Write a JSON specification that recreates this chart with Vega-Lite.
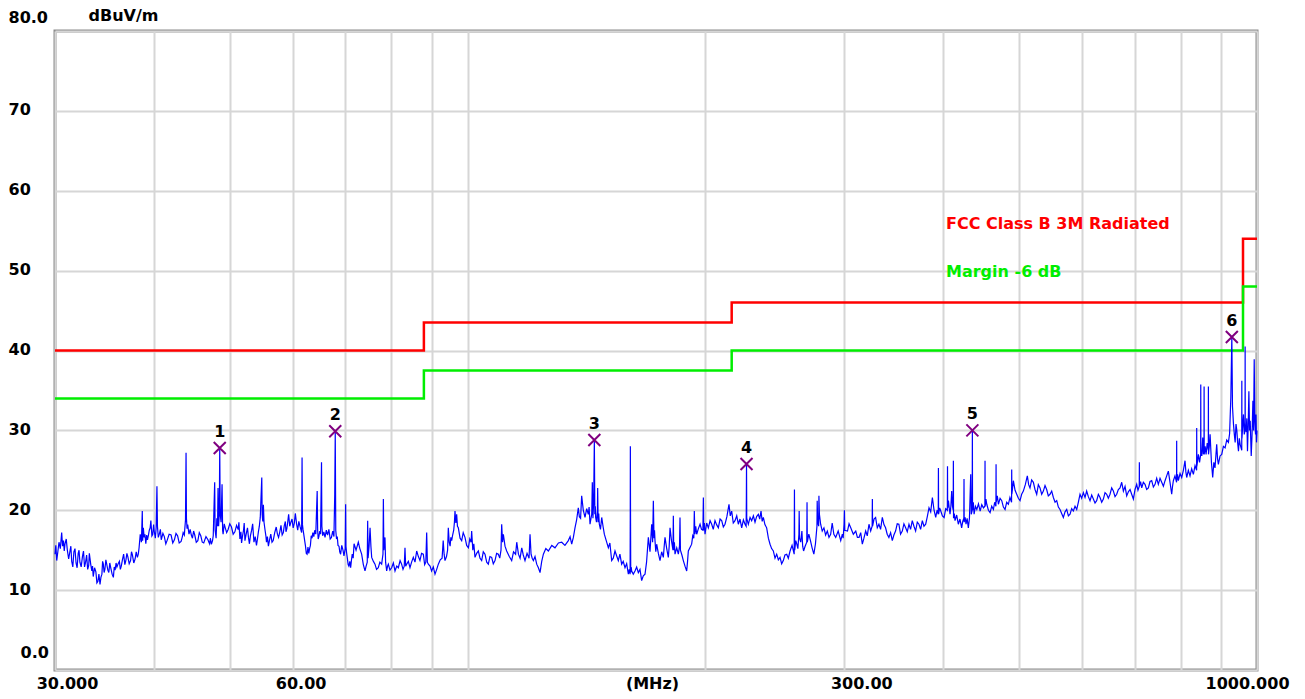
{
  "$schema": "https://vega.github.io/schema/vega-lite/v6.json",
  "width": 1202,
  "height": 639,
  "autosize": {"type": "none"},
  "padding": {"left": 55, "top": 31, "right": 48, "bottom": 29},
  "background": "white",
  "config": {"view": {"stroke": "#8c8c8c", "strokeWidth": 3}},
  "datasets": {
    "trace": [
      {"f":30.0,"v":14.5},{"f":30.07,"v":15.6},{"f":30.15,"v":13.7},{"f":30.25,"v":14.8},{"f":30.35,"v":16.0},{"f":30.47,"v":15.2},{"f":30.59,"v":17.2},{"f":30.67,"v":15.5},{"f":30.75,"v":16.2},{"f":30.82,"v":14.9},{"f":30.89,"v":15.8},{"f":31.0,"v":16.4},{"f":31.1,"v":15.0},{"f":31.22,"v":13.9},{"f":31.34,"v":14.9},{"f":31.42,"v":15.5},{"f":31.5,"v":13.6},{"f":31.6,"v":12.9},{"f":31.7,"v":14.8},{"f":31.8,"v":15.2},{"f":31.9,"v":13.4},{"f":32.0,"v":12.8},{"f":32.1,"v":14.6},{"f":32.18,"v":15.0},{"f":32.26,"v":13.5},{"f":32.38,"v":12.9},{"f":32.5,"v":14.2},{"f":32.6,"v":14.9},{"f":32.7,"v":12.9},{"f":32.8,"v":13.5},{"f":32.9,"v":14.4},{"f":33.0,"v":12.6},{"f":33.1,"v":13.1},{"f":33.16,"v":14.6},{"f":33.22,"v":14.0},{"f":33.3,"v":13.2},{"f":33.4,"v":12.4},{"f":33.47,"v":13.0},{"f":33.54,"v":11.7},{"f":33.67,"v":12.8},{"f":33.8,"v":12.3},{"f":33.9,"v":10.9},{"f":34.0,"v":11.1},{"f":34.1,"v":12.0},{"f":34.21,"v":10.7},{"f":34.3,"v":11.6},{"f":34.4,"v":12.0},{"f":34.47,"v":13.6},{"f":34.54,"v":13.3},{"f":34.62,"v":12.2},{"f":34.7,"v":12.6},{"f":34.8,"v":13.8},{"f":34.88,"v":13.3},{"f":35.0,"v":12.5},{"f":35.1,"v":12.2},{"f":35.2,"v":13.4},{"f":35.3,"v":12.8},{"f":35.44,"v":12.0},{"f":35.57,"v":11.6},{"f":35.66,"v":12.9},{"f":35.75,"v":12.5},{"f":35.85,"v":13.4},{"f":35.94,"v":12.9},{"f":36.07,"v":13.3},{"f":36.2,"v":13.6},{"f":36.3,"v":12.6},{"f":36.4,"v":13.0},{"f":36.52,"v":13.8},{"f":36.65,"v":14.5},{"f":36.78,"v":13.2},{"f":36.9,"v":13.8},{"f":37.0,"v":14.6},{"f":37.1,"v":14.2},{"f":37.25,"v":13.3},{"f":37.4,"v":13.7},{"f":37.5,"v":14.8},{"f":37.6,"v":14.4},{"f":37.75,"v":13.4},{"f":37.9,"v":13.9},{"f":38.02,"v":14.8},{"f":38.15,"v":14.1},{"f":38.25,"v":14.5},{"f":38.34,"v":15.3},{"f":38.47,"v":17.0},{"f":38.6,"v":16.0},{"f":38.7,"v":19.9},{"f":38.74,"v":16.2},{"f":38.82,"v":17.8},{"f":38.91,"v":16.6},{"f":39.0,"v":17.0},{"f":39.1,"v":15.8},{"f":39.2,"v":16.9},{"f":39.29,"v":16.3},{"f":39.4,"v":16.9},{"f":39.5,"v":17.5},{"f":39.6,"v":17.8},{"f":39.68,"v":18.7},{"f":39.8,"v":16.8},{"f":39.9,"v":17.0},{"f":40.0,"v":18.2},{"f":40.07,"v":17.4},{"f":40.2,"v":16.5},{"f":40.3,"v":17.8},{"f":40.39,"v":23.0},{"f":40.45,"v":18.0},{"f":40.55,"v":16.6},{"f":40.67,"v":17.0},{"f":40.8,"v":17.6},{"f":40.9,"v":16.3},{"f":41.1,"v":17.1},{"f":41.27,"v":16.7},{"f":41.45,"v":15.8},{"f":41.6,"v":16.2},{"f":41.85,"v":17.0},{"f":42.09,"v":16.9},{"f":42.3,"v":15.9},{"f":42.5,"v":16.3},{"f":42.7,"v":17.1},{"f":42.9,"v":16.8},{"f":43.1,"v":15.9},{"f":43.34,"v":16.1},{"f":43.5,"v":16.7},{"f":43.6,"v":17.2},{"f":43.75,"v":16.9},{"f":43.9,"v":18.8},{"f":43.97,"v":27.2},{"f":44.02,"v":19.0},{"f":44.1,"v":17.7},{"f":44.18,"v":18.2},{"f":44.35,"v":17.0},{"f":44.5,"v":17.6},{"f":44.65,"v":16.9},{"f":44.8,"v":16.5},{"f":44.95,"v":17.4},{"f":45.1,"v":16.9},{"f":45.3,"v":16.0},{"f":45.51,"v":16.2},{"f":45.7,"v":17.2},{"f":45.9,"v":16.8},{"f":46.1,"v":16.0},{"f":46.3,"v":15.9},{"f":46.6,"v":16.7},{"f":46.87,"v":16.3},{"f":47.0,"v":16.0},{"f":47.1,"v":15.8},{"f":47.2,"v":16.5},{"f":47.34,"v":15.75},{"f":47.5,"v":16.2},{"f":47.6,"v":16.8},{"f":47.8,"v":23.5},{"f":47.86,"v":17.5},{"f":48.0,"v":16.5},{"f":48.1,"v":19.0},{"f":48.2,"v":18.0},{"f":48.27,"v":22.8},{"f":48.35,"v":18.0},{"f":48.45,"v":19.5},{"f":48.51,"v":27.8},{"f":48.58,"v":19.5},{"f":48.7,"v":18.5},{"f":48.84,"v":23.25},{"f":48.92,"v":17.5},{"f":48.99,"v":17.0},{"f":49.15,"v":18.3},{"f":49.3,"v":17.8},{"f":49.5,"v":17.2},{"f":49.71,"v":17.6},{"f":49.95,"v":18.3},{"f":50.2,"v":17.9},{"f":50.45,"v":17.0},{"f":50.7,"v":17.3},{"f":50.95,"v":18.1},{"f":51.2,"v":17.6},{"f":51.3,"v":18.5},{"f":51.45,"v":16.4},{"f":51.6,"v":17.3},{"f":51.7,"v":15.9},{"f":51.85,"v":16.8},{"f":52.0,"v":17.5},{"f":52.1,"v":18.4},{"f":52.21,"v":16.2},{"f":52.4,"v":17.0},{"f":52.6,"v":17.8},{"f":52.75,"v":16.6},{"f":52.9,"v":15.8},{"f":53.05,"v":16.8},{"f":53.24,"v":17.5},{"f":53.4,"v":18.3},{"f":53.6,"v":16.0},{"f":53.8,"v":16.7},{"f":54.0,"v":15.6},{"f":54.15,"v":16.4},{"f":54.3,"v":17.3},{"f":54.45,"v":18.0},{"f":54.6,"v":19.1},{"f":54.84,"v":24.1},{"f":54.9,"v":19.5},{"f":55.0,"v":18.6},{"f":55.1,"v":20.7},{"f":55.2,"v":18.5},{"f":55.37,"v":17.5},{"f":55.5,"v":16.8},{"f":55.6,"v":16.0},{"f":55.75,"v":16.7},{"f":55.91,"v":15.5},{"f":56.1,"v":16.3},{"f":56.3,"v":17.0},{"f":56.5,"v":16.0},{"f":56.7,"v":16.2},{"f":56.95,"v":17.2},{"f":57.2,"v":17.9},{"f":57.4,"v":17.0},{"f":57.59,"v":16.6},{"f":57.8,"v":17.3},{"f":58.0,"v":18.1},{"f":58.2,"v":16.9},{"f":58.4,"v":17.2},{"f":58.55,"v":18.0},{"f":58.74,"v":18.6},{"f":58.85,"v":17.3},{"f":59.0,"v":17.7},{"f":59.15,"v":18.5},{"f":59.31,"v":19.5},{"f":59.5,"v":18.0},{"f":59.7,"v":18.5},{"f":59.9,"v":18.9},{"f":60.1,"v":17.8},{"f":60.3,"v":18.4},{"f":60.48,"v":19.6},{"f":60.7,"v":18.3},{"f":60.9,"v":17.5},{"f":61.1,"v":18.6},{"f":61.3,"v":18.0},{"f":61.45,"v":17.6},{"f":61.6,"v":17.2},{"f":61.68,"v":26.6},{"f":61.75,"v":18.2},{"f":61.85,"v":17.6},{"f":61.98,"v":17.0},{"f":62.15,"v":16.2},{"f":62.3,"v":15.5},{"f":62.45,"v":14.6},{"f":62.59,"v":14.5},{"f":62.75,"v":15.4},{"f":62.9,"v":14.6},{"f":63.05,"v":15.2},{"f":63.2,"v":15.6},{"f":63.35,"v":16.8},{"f":63.5,"v":16.5},{"f":63.65,"v":17.2},{"f":63.83,"v":16.7},{"f":64.0,"v":17.5},{"f":64.2,"v":17.0},{"f":64.46,"v":22.4},{"f":64.55,"v":17.5},{"f":64.65,"v":16.4},{"f":64.78,"v":16.7},{"f":64.95,"v":17.4},{"f":65.1,"v":17.0},{"f":65.28,"v":26.0},{"f":65.35,"v":18.0},{"f":65.5,"v":16.8},{"f":65.73,"v":17.3},{"f":65.95,"v":16.6},{"f":66.2,"v":17.5},{"f":66.45,"v":16.9},{"f":66.7,"v":17.6},{"f":66.95,"v":16.4},{"f":67.2,"v":16.6},{"f":67.45,"v":17.4},{"f":67.69,"v":16.7},{"f":67.85,"v":22.0},{"f":67.95,"v":29.8},{"f":68.05,"v":17.5},{"f":68.2,"v":16.4},{"f":68.35,"v":16.7},{"f":68.5,"v":15.6},{"f":68.7,"v":15.5},{"f":68.85,"v":14.8},{"f":69.02,"v":14.5},{"f":69.25,"v":15.6},{"f":69.5,"v":15.0},{"f":69.7,"v":14.3},{"f":69.95,"v":15.2},{"f":70.04,"v":20.75},{"f":70.1,"v":15.5},{"f":70.25,"v":14.6},{"f":70.39,"v":14.0},{"f":70.55,"v":13.2},{"f":70.7,"v":13.0},{"f":70.9,"v":13.6},{"f":71.07,"v":12.8},{"f":71.25,"v":13.8},{"f":71.4,"v":14.5},{"f":71.6,"v":14.0},{"f":71.78,"v":15.8},{"f":72.2,"v":15.0},
      {"f":72.68,"v":16.0},{"f":73.0,"v":15.2},{"f":73.39,"v":14.5},{"f":73.75,"v":13.2},{"f":74.11,"v":12.4},{"f":74.35,"v":13.0},{"f":74.6,"v":13.5},{"f":74.69,"v":18.7},{"f":74.78,"v":14.0},{"f":75.0,"v":15.5},{"f":75.21,"v":17.8},{"f":75.4,"v":15.5},{"f":75.57,"v":14.1},{"f":75.95,"v":13.6},{"f":76.3,"v":13.25},{"f":76.65,"v":12.6},{"f":77.04,"v":12.8},{"f":77.4,"v":13.5},{"f":77.8,"v":13.25},{"f":78.1,"v":14.5},{"f":78.19,"v":21.4},{"f":78.3,"v":15.0},{"f":78.45,"v":16.0},{"f":78.56,"v":16.6},{"f":78.7,"v":13.5},{"f":78.95,"v":12.4},{"f":79.15,"v":13.0},{"f":79.33,"v":13.25},{"f":79.7,"v":12.5},{"f":80.1,"v":12.8},{"f":80.5,"v":13.4},{"f":80.89,"v":12.4},{"f":81.3,"v":13.0},{"f":81.68,"v":12.8},{"f":82.1,"v":13.7},{"f":82.47,"v":13.25},{"f":82.8,"v":12.6},{"f":83.1,"v":13.0},{"f":83.28,"v":15.3},{"f":83.45,"v":13.0},{"f":83.69,"v":13.25},{"f":84.1,"v":13.6},{"f":84.5,"v":12.8},{"f":84.9,"v":13.5},{"f":85.33,"v":14.1},{"f":85.75,"v":13.5},{"f":86.17,"v":14.9},{"f":86.6,"v":14.2},{"f":87.0,"v":13.7},{"f":87.4,"v":14.6},{"f":87.85,"v":14.5},{"f":88.2,"v":13.2},{"f":88.5,"v":13.5},{"f":88.72,"v":17.2},{"f":88.9,"v":13.5},{"f":89.15,"v":13.25},{"f":89.6,"v":13.0},{"f":90.0,"v":12.4},{"f":90.45,"v":12.9},{"f":90.9,"v":12.0},{"f":91.35,"v":12.6},{"f":91.79,"v":13.25},{"f":92.3,"v":13.8},{"f":92.8,"v":14.0},{"f":93.1,"v":16.2},{"f":93.35,"v":14.5},{"f":93.59,"v":13.7},{"f":94.0,"v":14.2},{"f":94.3,"v":15.0},{"f":94.5,"v":17.8},{"f":94.75,"v":16.0},{"f":95.0,"v":15.5},{"f":95.2,"v":16.6},{"f":95.43,"v":16.2},{"f":95.7,"v":16.9},{"f":96.0,"v":17.5},{"f":96.2,"v":18.5},{"f":96.36,"v":19.9},{"f":96.6,"v":18.4},{"f":96.83,"v":19.5},{"f":97.05,"v":18.0},{"f":97.3,"v":17.8},{"f":97.8,"v":16.5},{"f":98.26,"v":16.2},{"f":98.7,"v":17.2},{"f":99.21,"v":16.6},{"f":99.7,"v":15.6},{"f":100.2,"v":15.3},{"f":100.6,"v":16.4},{"f":101.0,"v":16.0},{"f":101.16,"v":17.4},{"f":101.5,"v":15.0},{"f":101.8,"v":15.8},{"f":102.15,"v":14.1},{"f":102.65,"v":14.6},{"f":103.15,"v":14.9},{"f":103.65,"v":14.0},{"f":104.16,"v":13.7},{"f":104.65,"v":14.8},{"f":105.17,"v":14.5},{"f":105.7,"v":13.5},{"f":106.2,"v":13.25},{"f":106.7,"v":14.2},{"f":107.24,"v":14.1},{"f":107.75,"v":13.3},{"f":108.29,"v":13.7},{"f":108.8,"v":14.6},{"f":109.35,"v":14.5},{"f":109.8,"v":14.0},{"f":110.2,"v":15.0},{"f":110.42,"v":18.25},{"f":110.7,"v":16.0},{"f":110.96,"v":17.0},{"f":111.5,"v":15.5},{"f":112.04,"v":14.9},{"f":112.9,"v":14.2},{"f":113.69,"v":13.7},{"f":114.3,"v":14.8},{"f":115.0,"v":14.5},{"f":115.38,"v":16.0},{"f":115.95,"v":14.5},{"f":116.5,"v":14.0},{"f":117.08,"v":15.3},{"f":117.6,"v":14.4},{"f":118.19,"v":13.7},{"f":118.9,"v":14.6},{"f":119.6,"v":14.0},{"f":119.94,"v":17.0},{"f":120.3,"v":14.5},{"f":120.7,"v":14.0},{"f":121.12,"v":13.7},{"f":121.7,"v":14.2},{"f":122.3,"v":13.25},{"f":122.9,"v":12.8},{"f":123.49,"v":12.2},{"f":124.1,"v":13.6},{"f":124.7,"v":14.5},{"f":125.6,"v":15.2},{"f":126.53,"v":14.9},{"f":127.8,"v":15.6},{"f":129.0,"v":15.3},{"f":130.3,"v":15.9},{"f":131.55,"v":16.0},{"f":132.8,"v":15.6},{"f":134.12,"v":16.2},{"f":134.8,"v":16.7},{"f":135.44,"v":15.75},{"f":136.1,"v":16.6},{"f":136.75,"v":17.8},{"f":137.4,"v":18.8},{"f":138.08,"v":20.3},{"f":138.5,"v":19.2},{"f":139.0,"v":19.0},{"f":139.44,"v":21.8},{"f":140.1,"v":20.0},{"f":140.8,"v":19.1},{"f":141.5,"v":20.2},{"f":142.17,"v":19.5},{"f":142.5,"v":20.4},{"f":142.88,"v":18.25},{"f":143.3,"v":19.0},{"f":143.6,"v":19.5},{"f":143.84,"v":23.5},{"f":144.1,"v":19.0},{"f":144.4,"v":21.0},{"f":144.69,"v":28.8},{"f":144.9,"v":19.5},{"f":145.1,"v":20.5},{"f":145.25,"v":19.1},{"f":145.6,"v":18.5},{"f":146.0,"v":20.0},{"f":146.1,"v":22.8},{"f":146.3,"v":18.5},{"f":146.55,"v":19.6},{"f":146.81,"v":18.25},{"f":147.3,"v":17.6},{"f":147.84,"v":19.1},{"f":148.4,"v":18.0},{"f":148.97,"v":17.0},{"f":149.8,"v":16.2},{"f":150.72,"v":15.3},{"f":151.4,"v":15.9},{"f":152.2,"v":13.7},{"f":152.9,"v":14.0},{"f":153.68,"v":14.9},{"f":154.4,"v":14.3},{"f":155.17,"v":13.7},{"f":155.9,"v":14.5},{"f":156.69,"v":13.25},{"f":157.4,"v":13.6},{"f":158.23,"v":12.8},{"f":159.0,"v":13.3},{"f":159.78,"v":12.0},{"f":160.2,"v":12.6},{"f":160.6,"v":12.0},{"f":160.68,"v":19.9},{"f":160.72,"v":28.0},{"f":160.8,"v":19.5},{"f":160.9,"v":12.2},{"f":161.1,"v":12.9},{"f":161.35,"v":12.4},{"f":162.1,"v":12.0},{"f":162.91,"v":12.4},{"f":163.7,"v":12.9},{"f":164.5,"v":12.2},{"f":165.3,"v":12.6},{"f":166.11,"v":11.2},{"f":166.9,"v":11.8},{"f":167.74,"v":12.0},{"f":168.5,"v":13.5},{"f":169.38,"v":16.6},{"f":170.2,"v":14.8},{"f":171.04,"v":18.25},{"f":171.5,"v":16.0},{"f":171.87,"v":21.2},{"f":172.2,"v":16.5},{"f":172.45,"v":17.5},{"f":172.7,"v":16.2},
      {"f":173.1,"v":14.8},{"f":173.55,"v":15.75},{"f":174.4,"v":14.6},{"f":175.24,"v":13.7},{"f":176.1,"v":14.8},{"f":176.95,"v":14.1},{"f":177.4,"v":15.5},{"f":177.82,"v":16.6},{"f":178.7,"v":15.2},{"f":179.55,"v":14.1},{"f":180.0,"v":15.5},{"f":180.44,"v":17.8},{"f":181.2,"v":16.2},{"f":182.0,"v":15.0},{"f":182.19,"v":19.3},{"f":182.4,"v":15.0},{"f":182.75,"v":16.0},{"f":183.08,"v":14.5},{"f":184.0,"v":15.3},{"f":184.87,"v":14.5},{"f":185.5,"v":15.5},{"f":185.77,"v":19.1},{"f":186.0,"v":15.0},{"f":186.8,"v":14.4},{"f":187.58,"v":13.7},{"f":188.5,"v":13.0},{"f":189.43,"v":12.4},{"f":189.9,"v":13.6},{"f":190.34,"v":14.9},{"f":191.2,"v":15.3},{"f":192.19,"v":15.75},{"f":192.8,"v":16.8},{"f":193.4,"v":16.5},{"f":193.69,"v":19.9},{"f":194.0,"v":17.0},{"f":194.5,"v":18.0},{"f":195.03,"v":17.0},{"f":196.0,"v":17.7},{"f":196.96,"v":18.25},{"f":197.8,"v":17.6},{"f":198.6,"v":17.5},{"f":198.87,"v":21.6},{"f":199.1,"v":17.5},{"f":199.45,"v":18.4},{"f":199.83,"v":17.0},{"f":200.8,"v":18.4},{"f":201.78,"v":17.8},{"f":202.8,"v":18.7},{"f":203.77,"v":18.25},{"f":204.7,"v":17.6},{"f":205.74,"v":18.7},{"f":206.7,"v":18.2},{"f":207.75,"v":17.8},{"f":208.8,"v":18.9},{"f":209.79,"v":18.7},{"f":210.8,"v":17.9},{"f":211.83,"v":18.25},{"f":213.0,"v":19.2},{"f":214.31,"v":20.75},{"f":215.1,"v":19.3},{"f":216.0,"v":19.9},{"f":217.0,"v":18.4},{"f":218.1,"v":18.7},{"f":219.2,"v":19.3},{"f":220.23,"v":18.25},{"f":221.3,"v":18.9},{"f":222.4,"v":17.8},{"f":223.5,"v":18.8},{"f":224.56,"v":18.25},{"f":225.3,"v":18.0},{"f":225.45,"v":21.6},{"f":225.55,"v":25.8},{"f":225.7,"v":19.0},{"f":226.2,"v":18.6},{"f":226.75,"v":18.25},{"f":227.9,"v":19.1},{"f":228.97,"v":18.7},{"f":230.1,"v":19.3},{"f":231.21,"v":18.5},{"f":232.3,"v":19.2},{"f":233.47,"v":19.5},{"f":234.4,"v":18.9},{"f":235.3,"v":19.9},{"f":236.1,"v":18.6},{"f":236.9,"v":19.1},{"f":238.0,"v":18.2},{"f":239.2,"v":17.8},{"f":240.4,"v":16.5},{"f":241.57,"v":15.75},{"f":242.7,"v":15.2},{"f":243.9,"v":14.9},{"f":245.1,"v":14.0},{"f":246.3,"v":14.5},{"f":247.5,"v":13.8},{"f":248.7,"v":14.1},{"f":249.9,"v":13.3},{"f":251.1,"v":13.7},{"f":252.3,"v":14.4},{"f":253.6,"v":14.5},{"f":254.8,"v":14.0},{"f":256.1,"v":14.9},{"f":257.6,"v":15.6},{"f":259.2,"v":14.5},{"f":259.4,"v":22.6},{"f":259.6,"v":15.0},{"f":260.4,"v":16.2},{"f":261.2,"v":15.75},{"f":262.0,"v":15.2},{"f":262.8,"v":17.0},{"f":263.0,"v":19.9},{"f":263.3,"v":16.5},{"f":264.2,"v":16.0},{"f":265.1,"v":17.4},{"f":265.7,"v":15.5},{"f":266.4,"v":14.9},{"f":267.6,"v":15.5},{"f":268.9,"v":16.0},{"f":269.1,"v":21.0},{"f":269.3,"v":16.0},{"f":270.5,"v":17.0},{"f":271.8,"v":16.2},{"f":273.1,"v":15.3},{"f":274.5,"v":14.5},{"f":275.8,"v":15.8},{"f":277.0,"v":18.0},{"f":277.2,"v":21.2},{"f":277.6,"v":18.5},{"f":278.4,"v":18.0},{"f":278.6,"v":21.8},{"f":279.0,"v":19.5},{"f":280.0,"v":18.25},{"f":281.3,"v":17.4},{"f":282.7,"v":17.8},{"f":284.1,"v":16.9},{"f":285.5,"v":17.4},{"f":286.9,"v":16.6},{"f":288.3,"v":17.0},{"f":289.6,"v":18.4},{"f":291.0,"v":17.0},{"f":292.6,"v":16.6},{"f":294.7,"v":17.4},{"f":296.9,"v":16.2},{"f":298.3,"v":17.0},{"f":299.0,"v":16.5},{"f":299.8,"v":18.25},{"f":300.1,"v":20.0},{"f":300.4,"v":17.5},{"f":302.8,"v":17.4},{"f":304.2,"v":18.3},{"f":305.7,"v":17.8},{"f":308.0,"v":17.0},{"f":310.2,"v":17.4},{"f":311.7,"v":16.6},{"f":313.2,"v":16.6},{"f":314.7,"v":17.2},{"f":316.2,"v":15.75},{"f":317.7,"v":16.5},{"f":319.3,"v":17.4},{"f":320.8,"v":16.8},{"f":322.4,"v":18.25},{"f":324.0,"v":17.4},{"f":325.4,"v":18.0},{"f":325.6,"v":21.4},{"f":325.8,"v":18.0},{"f":327.2,"v":18.9},{"f":328.7,"v":19.1},{"f":330.3,"v":17.8},{"f":331.9,"v":18.25},{"f":333.5,"v":17.6},{"f":335.2,"v":19.1},{"f":336.8,"v":18.2},{"f":338.4,"v":17.8},{"f":340.0,"v":17.0},{"f":341.7,"v":16.6},{"f":343.4,"v":17.2},{"f":345.1,"v":16.2},{"f":346.7,"v":16.9},{"f":348.4,"v":17.4},{"f":350.1,"v":18.3},{"f":351.8,"v":18.25},{"f":353.5,"v":17.0},{"f":355.3,"v":17.4},{"f":357.0,"v":18.3},{"f":358.8,"v":17.8},{"f":360.5,"v":17.3},{"f":362.3,"v":18.25},{"f":364.0,"v":17.6},{"f":365.8,"v":18.7},{"f":367.6,"v":18.0},{"f":369.4,"v":17.4},{"f":371.2,"v":18.5},{"f":373.0,"v":18.25},{"f":374.8,"v":17.6},{"f":376.7,"v":18.7},{"f":378.5,"v":18.0},{"f":380.4,"v":18.25},{"f":382.2,"v":19.2},{"f":384.1,"v":20.3},{"f":386.0,"v":19.8},{"f":387.9,"v":21.6},{"f":389.8,"v":20.0},{"f":391.7,"v":19.1},{"f":393.2,"v":20.0},{"f":394.6,"v":19.5},{"f":394.8,"v":25.3},{"f":395.0,"v":19.5},{"f":396.2,"v":20.3},{"f":397.5,"v":19.9},{"f":399.4,"v":19.3},{"f":401.4,"v":19.1},{"f":403.3,"v":20.2},{"f":405.2,"v":20.0},{"f":405.4,"v":25.5},{"f":405.6,"v":20.3},{"f":406.5,"v":21.2},{"f":407.4,"v":20.3},
      {"f":408.4,"v":19.5},{"f":409.4,"v":20.5},{"f":410.4,"v":22.4},{"f":411.3,"v":20.5},{"f":412.2,"v":20.0},{"f":412.4,"v":26.2},{"f":412.6,"v":19.0},{"f":413.5,"v":19.6},{"f":414.4,"v":18.7},{"f":416.4,"v":19.4},{"f":418.4,"v":18.25},{"f":420.4,"v":18.9},{"f":422.5,"v":17.8},{"f":423.8,"v":18.6},{"f":425.2,"v":19.0},{"f":425.4,"v":23.9},{"f":425.6,"v":18.5},{"f":426.8,"v":19.1},{"f":427.9,"v":18.25},{"f":429.3,"v":19.0},{"f":430.8,"v":17.8},{"f":432.2,"v":19.0},{"f":433.8,"v":24.5},{"f":434.5,"v":19.5},{"f":435.7,"v":20.0},{"f":435.9,"v":30.0},{"f":436.1,"v":20.0},{"f":437.1,"v":21.0},{"f":438.1,"v":19.5},{"f":439.8,"v":20.5},{"f":441.6,"v":20.1},{"f":443.7,"v":20.8},{"f":445.9,"v":19.9},{"f":448.0,"v":20.7},{"f":450.2,"v":20.3},{"f":452.1,"v":20.5},{"f":452.3,"v":26.2},{"f":452.5,"v":20.5},{"f":453.5,"v":21.4},{"f":454.6,"v":20.75},{"f":456.8,"v":20.0},{"f":459.0,"v":19.7},{"f":461.2,"v":20.5},{"f":463.5,"v":20.1},{"f":465.2,"v":21.0},{"f":466.9,"v":20.5},{"f":467.1,"v":25.75},{"f":467.3,"v":21.0},{"f":468.8,"v":21.8},{"f":470.3,"v":20.75},{"f":472.6,"v":21.5},{"f":474.9,"v":21.2},{"f":477.2,"v":20.4},{"f":479.5,"v":20.1},{"f":481.8,"v":21.0},{"f":484.2,"v":20.75},{"f":486.4,"v":21.6},{"f":488.7,"v":21.0},{"f":488.9,"v":25.1},{"f":489.1,"v":22.0},{"f":490.2,"v":22.8},{"f":491.3,"v":23.7},{"f":493.7,"v":22.5},{"f":496.1,"v":22.0},{"f":498.5,"v":21.5},{"f":500.9,"v":21.2},{"f":503.3,"v":22.0},{"f":505.8,"v":22.4},{"f":508.7,"v":23.2},{"f":511.7,"v":24.3},{"f":513.7,"v":23.2},{"f":515.7,"v":22.8},{"f":518.2,"v":23.8},{"f":520.8,"v":23.5},{"f":523.3,"v":22.6},{"f":525.9,"v":22.0},{"f":528.4,"v":23.2},{"f":531.0,"v":22.8},{"f":533.6,"v":22.0},{"f":536.2,"v":22.4},{"f":538.8,"v":23.1},{"f":541.4,"v":22.6},{"f":544.0,"v":21.8},{"f":546.7,"v":22.0},{"f":549.4,"v":22.4},{"f":552.1,"v":21.6},{"f":554.8,"v":21.0},{"f":557.5,"v":21.2},{"f":560.2,"v":20.4},{"f":562.9,"v":20.1},{"f":565.6,"v":19.6},{"f":568.4,"v":19.1},{"f":571.2,"v":19.8},{"f":574.0,"v":20.1},{"f":576.8,"v":19.3},{"f":579.6,"v":19.5},{"f":582.4,"v":20.2},{"f":585.2,"v":19.9},{"f":588.1,"v":20.5},{"f":591.0,"v":20.1},{"f":593.8,"v":21.0},{"f":596.7,"v":22.0},{"f":599.6,"v":21.5},{"f":602.6,"v":22.2},{"f":605.5,"v":21.6},{"f":608.4,"v":22.4},{"f":611.4,"v":21.7},{"f":614.4,"v":21.2},{"f":617.4,"v":21.9},{"f":620.4,"v":21.4},{"f":623.4,"v":20.9},{"f":626.4,"v":21.2},{"f":629.5,"v":22.0},{"f":632.6,"v":21.6},{"f":635.7,"v":21.0},{"f":638.8,"v":21.4},{"f":641.9,"v":22.2},{"f":645.0,"v":22.0},{"f":648.1,"v":21.5},{"f":651.3,"v":22.0},{"f":654.5,"v":22.8},{"f":657.7,"v":22.4},{"f":660.9,"v":21.7},{"f":664.1,"v":22.0},{"f":667.3,"v":22.6},{"f":670.6,"v":22.8},{"f":673.9,"v":23.5},{"f":677.2,"v":22.4},{"f":680.5,"v":23.0},{"f":683.8,"v":21.8},{"f":687.1,"v":22.3},{"f":690.5,"v":22.6},{"f":693.8,"v":22.0},{"f":697.2,"v":21.4},{"f":700.6,"v":22.6},{"f":704.0,"v":23.25},{"f":706.6,"v":22.5},{"f":709.3,"v":23.0},{"f":709.5,"v":26.0},{"f":709.7,"v":23.0},{"f":712.0,"v":23.6},{"f":714.4,"v":22.8},{"f":717.8,"v":23.5},{"f":721.3,"v":23.25},{"f":724.8,"v":22.6},{"f":728.4,"v":22.8},{"f":731.9,"v":23.6},{"f":735.5,"v":23.7},{"f":739.1,"v":22.9},{"f":742.7,"v":23.25},{"f":746.3,"v":24.0},{"f":749.9,"v":23.25},{"f":753.6,"v":24.0},{"f":757.3,"v":23.5},{"f":761.0,"v":23.0},{"f":764.7,"v":23.7},{"f":768.4,"v":24.3},{"f":772.1,"v":24.9},{"f":775.9,"v":23.5},{"f":779.7,"v":22.0},{"f":781.6,"v":23.0},{"f":783.5,"v":23.7},{"f":787.2,"v":24.3},{"f":790.9,"v":23.5},{"f":791.1,"v":28.7},{"f":791.3,"v":23.7},{"f":793.1,"v":24.5},{"f":795.0,"v":23.7},{"f":798.9,"v":24.6},{"f":802.8,"v":24.1},{"f":806.7,"v":25.0},{"f":810.6,"v":26.2},{"f":812.6,"v":24.8},{"f":814.6,"v":24.1},{"f":818.5,"v":25.0},{"f":822.5,"v":24.3},{"f":826.5,"v":25.2},{"f":830.6,"v":24.5},{"f":834.6,"v":25.6},{"f":838.5,"v":25.0},{"f":838.7,"v":30.3},{"f":839.0,"v":25.5},{"f":840.9,"v":26.2},{"f":842.8,"v":27.0},{"f":845.7,"v":26.0},{"f":848.5,"v":27.0},{"f":848.7,"v":35.75},{"f":849.0,"v":27.5},{"f":851.3,"v":26.8},{"f":853.6,"v":29.1},{"f":855.2,"v":27.0},{"f":856.8,"v":27.5},{"f":857.0,"v":35.5},{"f":857.3,"v":27.0},{"f":859.6,"v":28.0},{"f":862.0,"v":27.0},{"f":864.8,"v":28.4},{"f":867.6,"v":27.5},{"f":867.8,"v":35.5},{"f":868.1,"v":27.0},{"f":870.1,"v":28.0},{"f":872.1,"v":29.5},{"f":875.5,"v":26.0},{"f":878.8,"v":24.1},{"f":881.7,"v":26.0},{"f":884.7,"v":25.3},{"f":886.9,"v":26.8},{"f":889.1,"v":28.25},{"f":891.2,"v":26.5},{"f":893.4,"v":25.75},{"f":897.8,"v":26.8},{"f":902.2,"v":27.0},{"f":906.6,"v":28.0},{"f":911.1,"v":27.8},{"f":915.5,"v":28.8},{"f":920.0,"v":28.5},{"f":923.2,"v":29.6},{"f":926.5,"v":34.1},{"f":929.2,"v":41.7},{"f":931.0,"v":33.0},{"f":933.7,"v":30.75},{"f":936.0,"v":29.5},{"f":938.3,"v":28.5},{"f":940.6,"v":30.8},{"f":943.0,"v":29.9},{"f":945.2,"v":28.4},{"f":947.4,"v":27.4},{"f":949.7,"v":29.0},{"f":952.0,"v":28.25},{"f":956.5,"v":27.5},{"f":956.7,"v":36.2},{"f":957.0,"v":29.0},{"f":959.1,"v":30.5},{"f":961.3,"v":32.0},{"f":963.5,"v":29.5},{"f":965.8,"v":30.0},{"f":966.0,"v":40.5},{"f":966.3,"v":30.0},{"f":968.9,"v":29.9},{"f":970.7,"v":31.5},{"f":972.6,"v":27.4},{"f":974.6,"v":30.5},{"f":976.6,"v":34.9},{"f":978.5,"v":30.0},{"f":980.4,"v":31.2},{"f":983.3,"v":26.8},{"f":985.7,"v":29.5},{"f":988.1,"v":33.7},{"f":990.0,"v":30.0},{"f":991.9,"v":38.9},{"f":993.8,"v":31.0},{"f":995.7,"v":29.5},{"f":997.1,"v":32.0},{"f":998.6,"v":28.5},{"f":1000.0,"v":30.0}
    ],
    "limits": [
      {"f":30,"v":40,"s":"FCC"},{"f":88,"v":43.5,"s":"FCC"},{"f":216,"v":46,"s":"FCC"},{"f":960,"v":54,"s":"FCC"},{"f":1000,"v":54,"s":"FCC"},
      {"f":30,"v":34,"s":"Margin"},{"f":88,"v":37.5,"s":"Margin"},{"f":216,"v":40,"s":"Margin"},{"f":960,"v":48,"s":"Margin"},{"f":1000,"v":48,"s":"Margin"}
    ],
    "markers": [
      {"n":"1","f":48.51,"v":27.8},{"n":"2","f":67.95,"v":29.9},{"n":"3","f":144.69,"v":28.8},{"n":"4","f":225.55,"v":25.8},{"n":"5","f":435.9,"v":30.0},{"n":"6","f":929.2,"v":41.7}
    ],
    "notes": [
      {"t":"FCC Class B 3M Radiated","f":403.6,"v":55.8,"s":"FCC"},
      {"t":"Margin -6 dB","f":403.6,"v":49.8,"s":"Margin"}
    ]
  },
  "layer": [
    {
      "data": {"name": "limits"},
      "mark": {"type": "line", "interpolate": "step-after", "strokeWidth": 2.5},
      "encoding": {
        "x": {
          "field": "f", "type": "quantitative",
          "scale": {"type": "log", "domain": [30, 1000], "nice": false},
          "axis": {
            "values": [30,40,50,60,70,80,90,100,200,300,400,500,600,700,800,900,1000],
            "labelExpr": "datum.value==30?'30.000':datum.value==60?'60.00':datum.value==300?'300.00':datum.value==1000?'1000.000':''",
            "labelOverlap": false, "labelFlush": false, "labelBound": false,
            "labelFont": "DejaVu Sans", "labelFontWeight": "bold", "labelFontSize": 16, "labelColor": "black",
            "labelAlign": "center", "labelBaseline": "top", "labelPadding": 5,
            "labelOffset": {"condition": [{"test": "datum.value==30", "value": 12}, {"test": "datum.value==60", "value": 8}, {"test": "datum.value==300", "value": 17}], "value": -10},
            "ticks": false, "domain": false,
            "grid": true, "gridColor": "#d6d6d6", "gridWidth": 2,
            "title": "(MHz)", "titleFont": "DejaVu Sans", "titleFontWeight": "bold", "titleFontSize": 16, "titleColor": "black",
            "titleX": 597, "titleY": 5, "titleAlign": "center", "titleBaseline": "top", "titleAnchor": "start"
          }
        },
        "y": {
          "field": "v", "type": "quantitative",
          "scale": {"domain": [0, 80], "nice": false, "zero": false},
          "axis": {
            "values": [0,10,20,30,40,50,60,70,80],
            "labelExpr": "datum.value==80?'80.0':datum.value==0?'0.0':datum.label",
            "labelFont": "DejaVu Sans", "labelFontWeight": "bold", "labelFontSize": 16, "labelColor": "black",
            "labelAlign": "left", "labelBaseline": "middle",
            "labelPadding": {"condition": {"test": "datum.value==0", "value": 35}, "value": 47},
            "labelOffset": {"condition": [{"test": "datum.value==80", "value": -14}, {"test": "datum.value==0", "value": -18}], "value": -1},
            "labelOverlap": false, "labelFlush": false, "labelBound": false,
            "ticks": false, "domain": false,
            "grid": true, "gridColor": "#d6d6d6", "gridWidth": 2,
            "title": "dBuV/m", "titleFont": "DejaVu Sans", "titleFontWeight": "bold", "titleFontSize": 16, "titleColor": "black",
            "titleAngle": 0, "titleX": 33, "titleY": -11, "titleAlign": "left", "titleBaseline": "alphabetic", "titleAnchor": "start"
          }
        },
        "color": {"field": "s", "type": "nominal", "scale": {"domain": ["FCC", "Margin"], "range": ["#ff0000", "#00ee00"]}, "legend": null}
      }
    },
    {
      "data": {"name": "trace"},
      "mark": {"type": "line", "color": "#0000ff", "strokeWidth": 1.2},
      "encoding": {
        "x": {"field": "f", "type": "quantitative"},
        "y": {"field": "v", "type": "quantitative"}
      }
    },
    {
      "data": {"name": "markers"},
      "mark": {"type": "point", "shape": "M-1,-1L1,1M-1,1L1,-1", "size": 144, "filled": false, "stroke": "#800080", "strokeWidth": 2, "opacity": 1},
      "encoding": {
        "x": {"field": "f", "type": "quantitative"},
        "y": {"field": "v", "type": "quantitative"}
      }
    },
    {
      "data": {"name": "markers"},
      "mark": {"type": "text", "font": "DejaVu Sans", "fontWeight": "bold", "fontSize": 16, "color": "black", "dy": -16, "baseline": "middle", "align": "center"},
      "encoding": {
        "x": {"field": "f", "type": "quantitative"},
        "y": {"field": "v", "type": "quantitative"},
        "text": {"field": "n"}
      }
    },
    {
      "data": {"name": "notes"},
      "mark": {"type": "text", "font": "DejaVu Sans", "fontWeight": "bold", "fontSize": 16, "baseline": "middle", "align": "left"},
      "encoding": {
        "x": {"field": "f", "type": "quantitative"},
        "y": {"field": "v", "type": "quantitative"},
        "text": {"field": "t"},
        "color": {"field": "s", "type": "nominal", "legend": null}
      }
    }
  ]
}
